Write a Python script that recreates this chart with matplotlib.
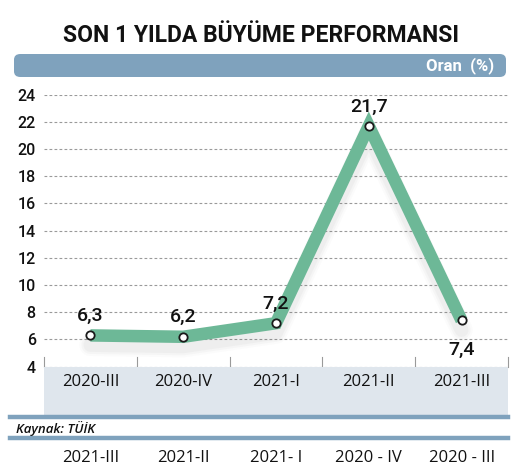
import matplotlib
matplotlib.use("Agg")
import matplotlib.pyplot as plt
from matplotlib.patches import FancyBboxPatch, Rectangle
from matplotlib.lines import Line2D
import numpy as np

categories = ["2020-III", "2020-IV", "2021-I", "2021-II", "2021-III"]
values = [6.3, 6.2, 7.2, 21.7, 7.4]
value_labels = ["6,3", "6,2", "7,2", "21,7", "7,4"]
yticks = [4, 6, 8, 10, 12, 14, 16, 18, 20, 22, 24]
bottom_labels = ["2021-III", "2021-II", "2021- I", "2020 - IV", "2020 - III"]

W, H = 529, 476
fig = plt.figure(figsize=(W / 100, H / 100), dpi=100)
fig.patch.set_facecolor("white")

COND = ["Roboto", "DejaVu Sans"]
SANS = ["Open Sans", "DejaVu Sans"]

def fx(px):
    return px / W

def fy(py):
    return 1 - py / H

# Title
fig.text(fx(261), fy(36), "SON 1 YILDA BÜYÜME PERFORMANSI", family=COND,
         fontsize=16.5, fontweight="bold", ha="center", va="center", color="#111111")

# Top bar
bar = FancyBboxPatch((fx(14), fy(77)), fx(492), (77 - 54) / H,
                     boxstyle="round,pad=0,rounding_size=0.012",
                     transform=fig.transFigure, facecolor="#7fa2bd",
                     edgecolor="none")
fig.patches.append(bar)
fig.text(fx(494), fy(66), "Oran  (%)", family=COND, fontsize=12,
         fontweight="bold", ha="right", va="center", color="white")

# Category band
band = Rectangle((fx(44), fy(415)), fx(464), (415 - 367) / H,
                 transform=fig.transFigure, facecolor="#dfe6ed", edgecolor="none")
fig.patches.append(band)

# Axes
ax = fig.add_axes([fx(44), fy(366.7), fx(464), (366.7 - 94.7) / H])
ax.set_facecolor("none")
ax.set_xlim(-0.5, 4.5)
ax.set_ylim(4, 24)
ax.set_yticks(yticks)
ax.set_yticklabels([str(t) for t in yticks], family=COND, fontsize=11.5,
                   fontweight="medium")
ax.tick_params(axis="y", length=0, pad=6, colors="#111111")
ax.set_xticks([])
for s in ax.spines.values():
    s.set_visible(False)
for t in yticks:
    ax.axhline(t, color="#9a9a9a", lw=0.8, ls=(0, (2.5, 2)), zorder=1)
# division ticks
for b in np.arange(-0.5, 5.0, 1.0):
    ax.plot([b, b], [4, 4.7], color="#9a9a9a", lw=0.8, clip_on=False, zorder=1)

x = np.arange(len(values))
# soft shadow
for lw, a in [(16, 0.025), (13, 0.035), (10, 0.045)]:
    ax.plot(x, np.array(values) - 0.7, color="#666666", lw=lw, alpha=a,
            solid_capstyle="round", solid_joinstyle="round", zorder=2, clip_on=False)
ax.plot(x, values, color="#6db897", lw=9, solid_capstyle="butt",
        solid_joinstyle="miter", zorder=3, clip_on=False)
ax.plot(x, values, ls="none", marker="o", ms=6, mfc="white", mec="#1a1a1a",
        mew=1.3, zorder=4, clip_on=False)

offsets = [14, 14, 14, 14, -21]
for xi, v, lab, off in zip(x, values, value_labels, offsets):
    ax.annotate(lab, (xi, v), xytext=(0, off), textcoords="offset points",
                ha="center", va="center", family=COND, fontsize=14,
                fontweight="medium", color="#111111", zorder=5)

# Category labels in band
for xi, c in zip(x, categories):
    fig.text(fx(44 + 92.8 * (xi + 0.5)), fy(382), c, family=SANS, fontsize=12,
             ha="center", va="center", color="#111111")

# Blue separator lines
for yy in [417, 438]:
    fig.add_artist(Line2D([fx(10), fx(508)], [fy(yy), fy(yy)],
                          transform=fig.transFigure, color="#7fa2bd", lw=3.2))
fig.text(fx(16), fy(428), "Kaynak: TÜİK", family=SANS, fontsize=9.5,
         fontstyle="italic", fontweight="semibold", ha="left", va="center",
         color="#111111")

for xi, c in zip(x, bottom_labels):
    fig.text(fx(44 + 92.8 * (xi + 0.5)), fy(458), c, family=SANS, fontsize=12,
             ha="center", va="center", color="#111111")

fig.savefig("out.png", dpi=100)
